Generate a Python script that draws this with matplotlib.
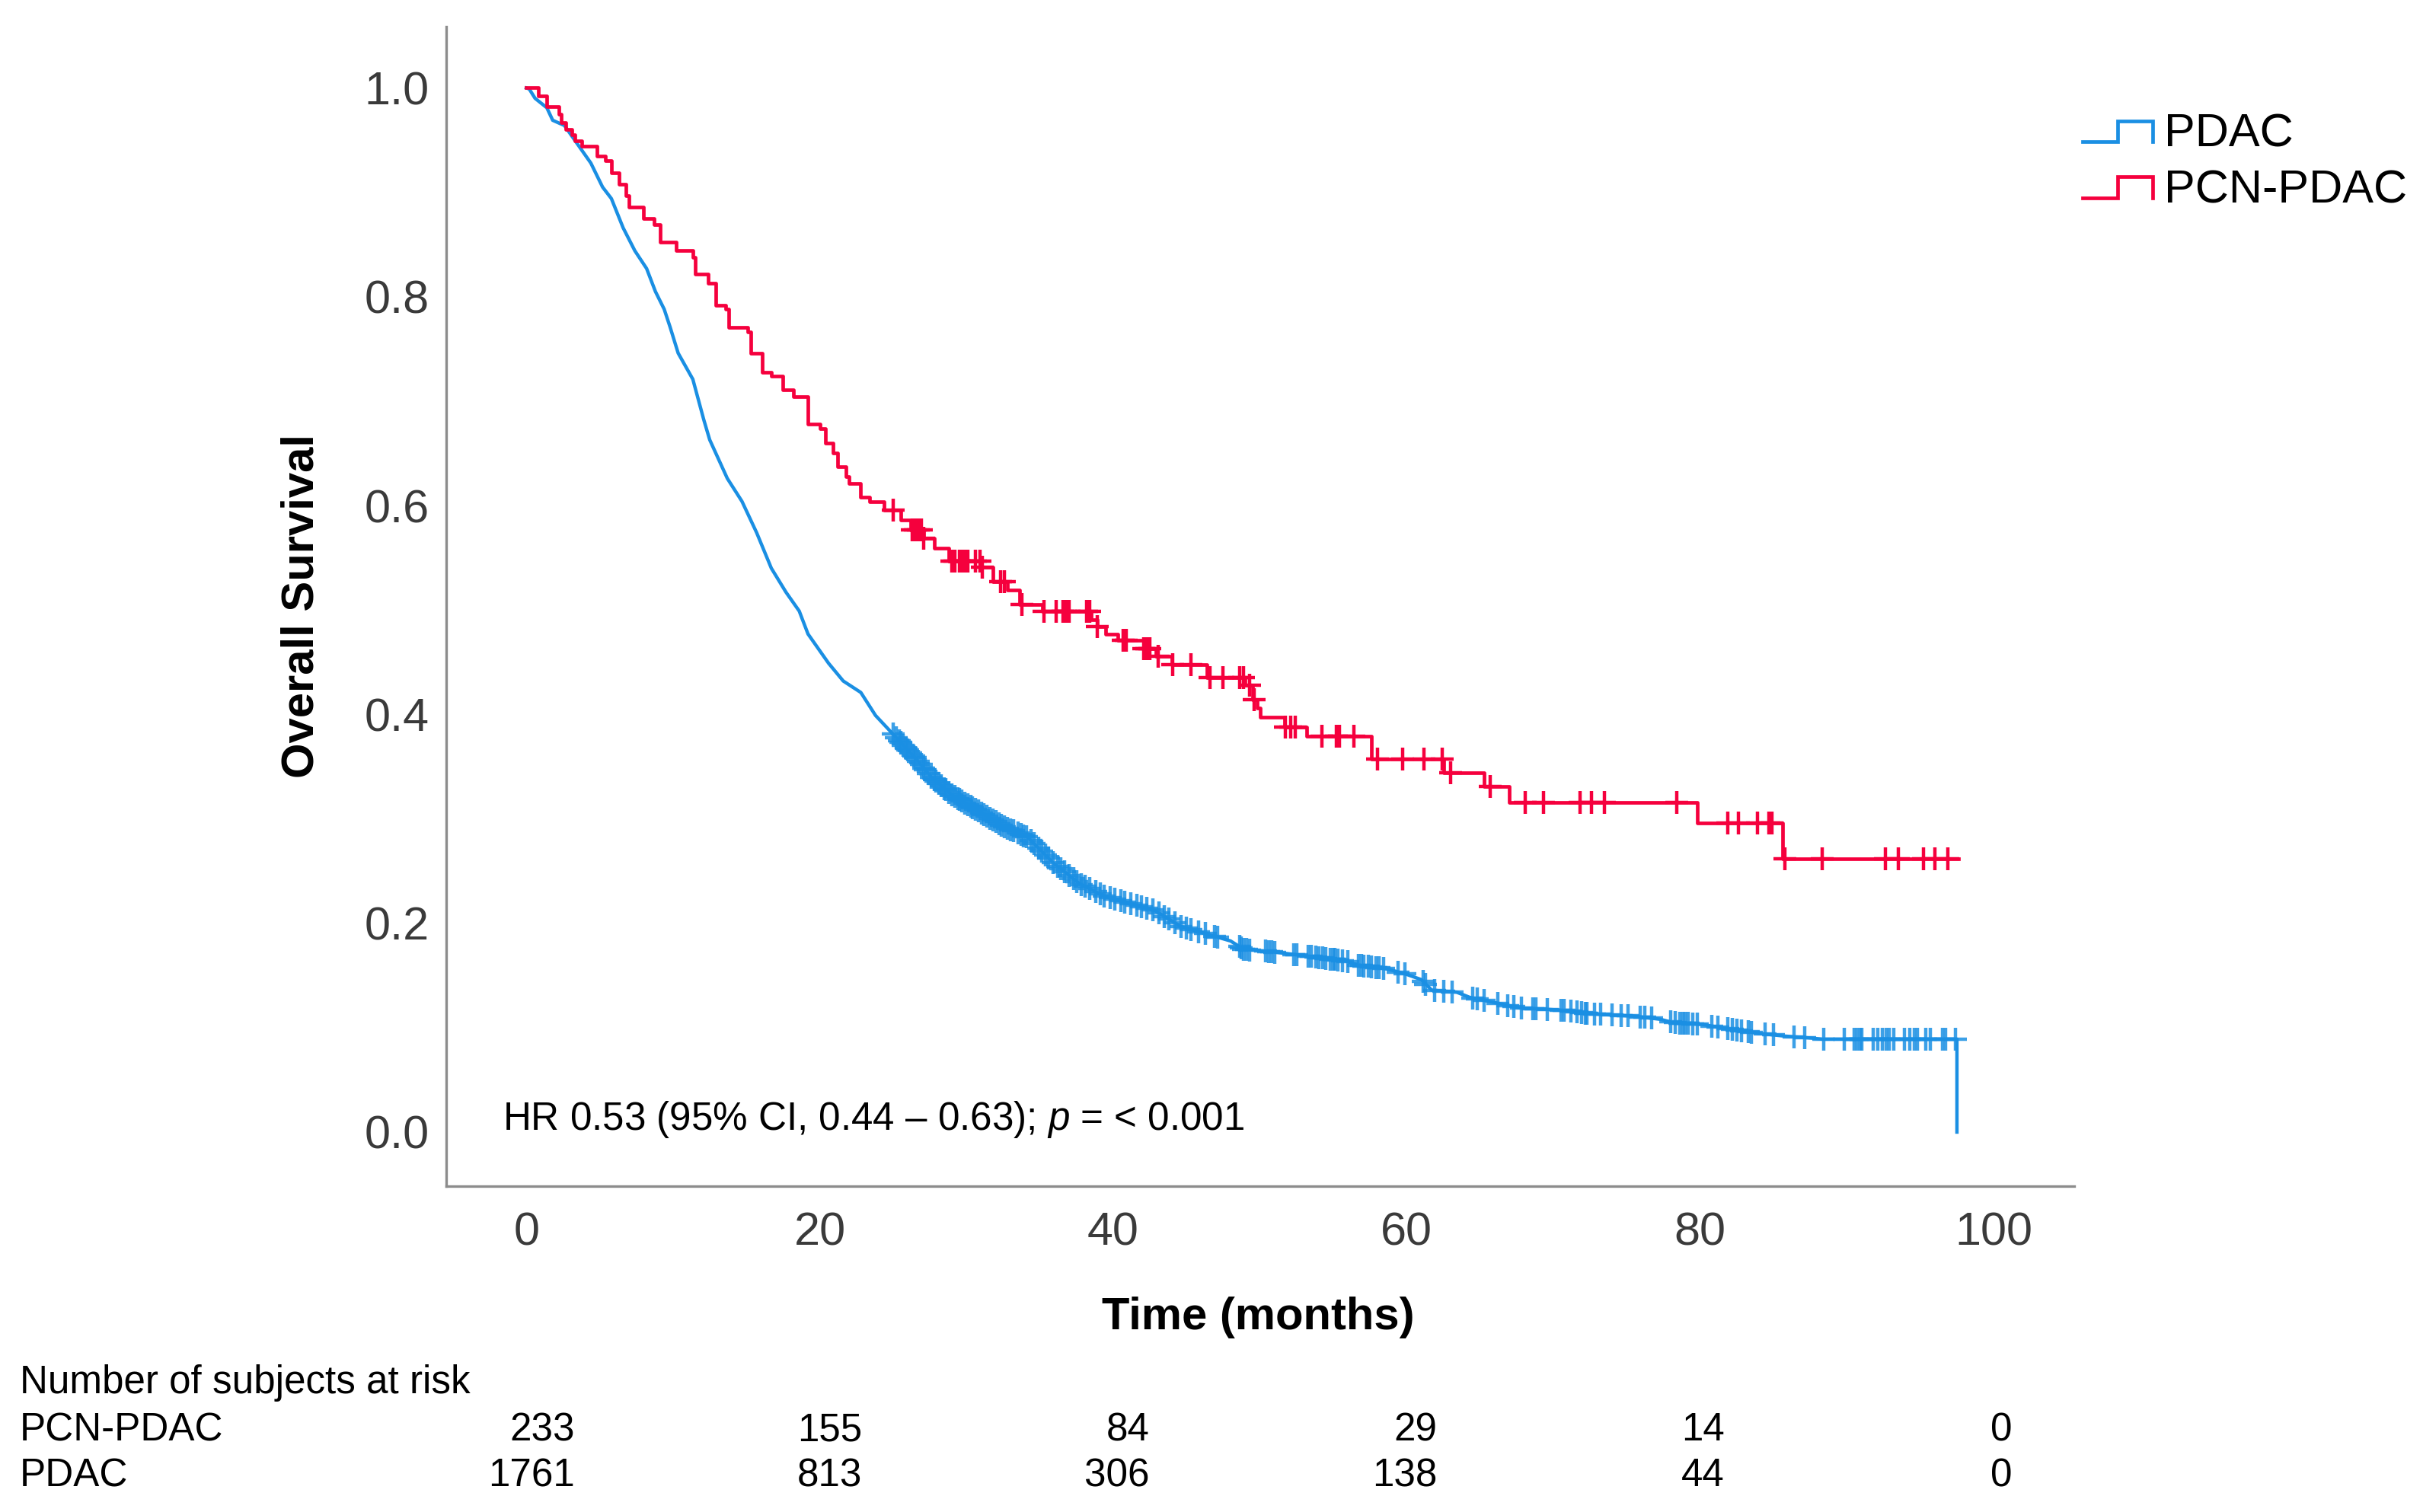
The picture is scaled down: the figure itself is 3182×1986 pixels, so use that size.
import numpy as np
import matplotlib
matplotlib.use("Agg")
import matplotlib.pyplot as plt
from matplotlib.lines import Line2D
from matplotlib.legend_handler import HandlerBase
from matplotlib.transforms import blended_transform_factory

plt.rcParams['font.family'] = ['Liberation Sans', 'DejaVu Sans']
plt.rcParams['mathtext.fontset'] = 'custom'
plt.rcParams['mathtext.rm'] = 'Liberation Sans'
plt.rcParams['mathtext.it'] = 'Liberation Sans:italic'

# PCN-PDAC Kaplan-Meier steps (time in months, survival after the step)
pcn_t = [0, 0.8, 1.4, 2.2, 2.4, 2.7, 3.1, 3.3, 3.8, 4.8, 5.4, 5.8, 6.3, 6.8, 7.0,
         8.0, 8.7, 9.1, 10.2, 11.35, 11.5, 12.4, 12.9, 13.6, 13.8, 15.1, 15.3,
         16.1, 16.7, 17.5, 18.2, 19.2, 20.0, 20.4, 20.9, 21.2, 21.8, 22.0, 22.8,
         23.4, 24.4, 25.5, 26.2, 27.1, 27.8, 28.8, 31.0, 31.8, 32.8, 33.6, 35.2,
         38.5, 38.9, 39.5, 40.3, 42.1, 42.9, 44.0, 46.4, 49.0, 49.5, 49.8, 50.0,
         51.7, 53.2, 57.6, 62.5, 65.3, 67.0, 79.8, 85.6, 97.6]
pcn_s = [1.0, 0.992, 0.982, 0.975, 0.967, 0.960, 0.955, 0.949, 0.944, 0.935, 0.930,
         0.919, 0.908, 0.897, 0.886, 0.875, 0.869, 0.852, 0.844, 0.838, 0.822, 0.813,
         0.792, 0.788, 0.771, 0.766, 0.746, 0.728, 0.724, 0.711, 0.704, 0.678, 0.674,
         0.660, 0.650, 0.637, 0.628, 0.621, 0.608, 0.604, 0.596, 0.586, 0.577, 0.569,
         0.559, 0.547, 0.541, 0.527, 0.519, 0.505, 0.499, 0.491, 0.484, 0.477, 0.471,
         0.463, 0.456, 0.448, 0.435, 0.428, 0.414, 0.406, 0.397, 0.388, 0.379, 0.357,
         0.344, 0.331, 0.316, 0.296, 0.262, 0.262]
pcn_cens = [25.0, 26.3, 26.5, 26.7, 26.9, 27.1, 29.0, 29.2, 29.5, 29.7, 29.9, 30.1,
            30.6, 30.9, 31.1, 32.3, 32.6, 33.8, 35.3, 36.1, 36.6, 36.8, 37.0, 38.2,
            38.4, 38.9, 40.7, 40.9, 42.1, 42.3, 42.5, 43.05, 44.05, 45.3, 46.6, 47.5,
            48.6, 48.9, 49.3, 49.6, 51.75, 52.1, 52.4, 54.2, 55.2, 55.4, 56.4, 58.0,
            59.7, 61.2, 62.4, 63.0, 65.7, 68.1, 69.3, 71.8, 72.6, 73.5, 78.4, 81.9,
            82.6, 83.9, 84.7, 84.9, 85.8, 88.3, 92.6, 93.5, 95.2, 96.0, 96.9]

# PDAC curve (many small steps, read as a trace)
pdac_t = [0, 0.2, 0.6, 1.4, 1.8, 2.6, 3.6, 4.4, 5.2, 5.8, 6.6, 7.4, 8.2, 8.8, 9.4,
          9.8, 10.35, 11.35, 12.1, 12.5, 13.7, 14.7, 15.7, 16.7, 17.7, 18.6, 19.2,
          20.6, 21.6, 22.8, 23.8, 25.0, 26.6, 27.6, 29.0, 30.5, 32.5, 34.2, 35.9,
          37.7, 39.4, 41.1, 42.85, 44.6, 46.3, 48.0, 48.9, 50.6, 52.4, 54.1, 55.8,
          56.7, 58.75, 60.0, 61.0, 61.7, 63.4, 64.3, 66.0, 67.7, 70.3, 72.9, 75.5,
          77.3, 78.1, 80.2, 82.0, 83.9, 85.7, 87.6, 88.3, 97.5, 97.5]
pdac_s = [1.0, 0.999, 0.990, 0.981, 0.969, 0.964, 0.944, 0.928, 0.905, 0.894, 0.866,
          0.844, 0.827, 0.805, 0.788, 0.771, 0.746, 0.721, 0.682, 0.663, 0.626, 0.604,
          0.574, 0.540, 0.517, 0.499, 0.477, 0.449, 0.432, 0.421, 0.399, 0.381, 0.357,
          0.340, 0.323, 0.310, 0.293, 0.282, 0.258, 0.238, 0.226, 0.219, 0.212, 0.197,
          0.190, 0.183, 0.175, 0.173, 0.170, 0.167, 0.164, 0.160, 0.156, 0.151, 0.146,
          0.136, 0.134, 0.129, 0.124, 0.119, 0.117, 0.113, 0.111, 0.108, 0.105, 0.103,
          0.0986, 0.0947, 0.092, 0.090, 0.089, 0.089, 0.0]
pdac_cens = [25.0, 25.2, 25.4, 25.5, 25.7, 25.9, 26.0, 26.2, 26.4, 26.5, 26.7, 26.9,
             27.1, 27.2, 27.4, 27.6, 27.8, 27.9, 28.1, 28.3, 28.5, 28.6, 28.8, 29.0,
             29.2, 29.4, 29.5, 29.7, 29.9, 30.1, 30.3, 30.4, 30.6, 30.8, 31.0, 31.2,
             31.4, 31.6, 31.8, 32.0, 32.2, 32.4, 32.6, 32.8, 33.0, 33.2, 33.5, 33.7,
             33.9, 34.1, 34.4, 34.6, 34.9, 35.1, 35.4, 35.6, 35.9, 36.2, 36.4, 36.7,
             37.0, 37.3, 37.5, 37.8, 38.1, 38.4, 38.8, 39.1, 39.4, 39.8, 40.1, 40.5,
             40.8, 41.2, 41.6, 41.9, 42.3, 42.7, 43.1, 43.5, 43.8, 44.2, 44.6, 45.0,
             45.3, 45.8, 46.3, 46.9, 47.1, 48.6, 48.7, 48.9, 49.1, 49.3, 50.4, 50.6,
             50.8, 51.0, 52.3, 52.5, 53.3, 53.5, 53.8, 54.0, 54.3, 54.5, 54.8, 55.0,
             55.1, 55.3, 55.6, 56.0, 56.7, 56.9, 57.1, 57.4, 57.6, 57.9, 58.1, 58.4,
             59.4, 59.9, 61.1, 61.3, 61.9, 62.5, 63.1, 64.5, 64.8, 65.3, 66.2, 66.9,
             67.3, 67.8, 68.6, 68.8, 69.6, 70.5, 70.7, 71.2, 71.6, 71.9, 72.2, 72.3,
             72.8, 73.2, 74.0, 74.6, 75.1, 75.9, 76.2, 76.7, 78.0, 78.3, 78.6, 78.8,
             79.0, 79.2, 79.5, 79.8, 80.8, 81.2, 81.9, 82.2, 82.5, 82.8, 83.3, 83.5,
             84.4, 85.0, 86.4, 87.1, 88.4, 89.8, 90.5, 90.7, 90.9, 91.0, 91.8, 92.1,
             92.4, 92.7, 92.9, 93.2, 93.9, 94.3, 94.6, 94.8, 95.4, 95.7, 96.5, 96.7,
             97.4]

x_ticks = [0, 20, 40, 60, 80, 100]
y_ticks = [0.0, 0.2, 0.4, 0.6, 0.8, 1.0]

risk_times = [0, 20, 40, 60, 80, 100]
risk_pcn = [233, 155, 84, 29, 14, 0]
risk_pdac = [1761, 813, 306, 138, 44, 0]

BLUE = '#1a8fe3'
RED = '#f5003d'


class StepHandler(HandlerBase):
    # small KM-like step as legend key
    def create_artists(self, legend, orig_handle, xdescent, ydescent,
                       width, height, fontsize, trans):
        lo, hi = 0.16 * height, 0.80 * height
        xs = np.array([0, 0.5, 0.5, 1.0, 1.0]) * width - xdescent
        ys = np.array([lo, lo, hi, hi, lo]) - ydescent
        ln = Line2D(xs, ys, color=orig_handle.get_color(), lw=1.7,
                    solid_joinstyle='miter', transform=trans)
        return [ln]


def main():
    fig = plt.figure(figsize=(15.91, 9.93), dpi=200)
    ax = fig.add_axes([0.1842, 0.2155, 0.6719, 0.7669])

    # PDAC: dense events, drawn as a trace
    pdac_line, = ax.plot(pdac_t, pdac_s, color=BLUE, lw=1.6, label='PDAC', zorder=3)
    yb = np.interp(pdac_cens, pdac_t[:-1], pdac_s[:-1])
    ax.plot(pdac_cens, yb, ls='none', marker='+', ms=11, mew=1.6, color=BLUE,
            alpha=0.85, zorder=3)

    # PCN-PDAC: step curve
    pcn_line, = ax.step(pcn_t, pcn_s, where='post', color=RED, lw=1.7,
                        label='PCN-PDAC', zorder=4)
    idx = np.searchsorted(pcn_t, pcn_cens, side='right') - 1
    yr = np.array(pcn_s)[idx]
    ax.plot(pcn_cens, yr, ls='none', marker='+', ms=11, mew=1.6, color=RED, zorder=4)

    ax.set_xlim(-5.45, 105.5)
    ax.set_ylim(-0.0518, 1.0587)
    ax.set_xticks(x_ticks)
    ax.set_yticks(y_ticks)
    ax.set_yticklabels([f"{v:.1f}" for v in y_ticks])
    ax.tick_params(axis='both', length=0, labelsize=22, labelcolor='#3a3a3a')
    ax.tick_params(axis='y', pad=8)
    ax.tick_params(axis='x', pad=12)
    for side in ['top', 'right']:
        ax.spines[side].set_visible(False)
    for side in ['left', 'bottom']:
        ax.spines[side].set_color('#8c8c8c')
        ax.spines[side].set_linewidth(1.2)

    ax.set_ylabel('Overall Survival', fontsize=21.5, fontweight='bold')
    ax.yaxis.set_label_coords(-0.0889, 0.5)
    ax.yaxis.label.set_verticalalignment('center')
    ax.set_xlabel('Time (months)', fontsize=21.5, fontweight='bold')
    ax.xaxis.set_label_coords(0.4986, -0.1135)
    ax.xaxis.label.set_verticalalignment('center')

    ax.text(-1.6, 0.012, 'HR 0.53 (95% CI, 0.44 \u2013 0.63); $p$ = < 0.001',
            fontsize=18.4, color='black', ha='left', va='center')

    fig.legend(handles=[pdac_line, pcn_line], labels=['PDAC', 'PCN-PDAC'],
               handler_map={Line2D: StepHandler()},
               loc='upper left', bbox_to_anchor=(0.8595, 0.925),
               frameon=False, fontsize=22, handlelength=1.5, handleheight=0.7,
               handletextpad=0.26, labelspacing=0.27, borderpad=0, borderaxespad=0)

    # number at risk table
    ax_tab = fig.add_axes([0, 0, 1, 0.1])
    ax_tab.set_xlim(-40.0, 128.6)
    ax_tab.axis('off')
    tr = blended_transform_factory(ax_tab.transData, fig.transFigure)
    row_y = [0.0539, 0.0237]
    fig.text(0.0082, 0.0851, 'Number of subjects at risk', fontsize=18.4,
             ha='left', va='center')
    for name, counts, yy in [('PCN-PDAC', risk_pcn, row_y[0]),
                             ('PDAC', risk_pdac, row_y[1])]:
        fig.text(0.0082, yy, name, fontsize=18.4, ha='left', va='center')
        for t, n in zip(risk_times, counts):
            ax_tab.text(t, yy, str(n), transform=tr, fontsize=18.4,
                        ha='right', va='center')

    fig.savefig('out.png', dpi=200)
    plt.close(fig)


if __name__ == '__main__':
    main()
